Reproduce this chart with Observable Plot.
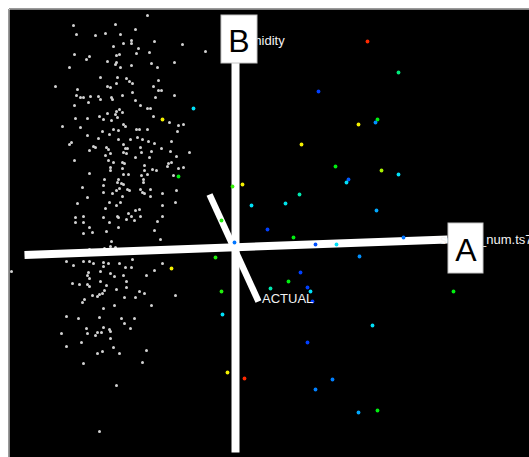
<!DOCTYPE html>
<html>
<head>
<meta charset="utf-8">
<script src="https://cdn.jsdelivr.net/npm/d3@7"></script>
<script src="https://cdn.jsdelivr.net/npm/@observablehq/plot@0.6"></script>
<style>
  html, body { margin: 0; padding: 0; background: #fff; overflow: hidden; }
  #chart svg { display: block; }
</style>
</head>
<body>
<div id="chart"></div>
<script>
// Projected scores (first two display coordinates) of the observations without an ACTUAL value
const clusterScores = [
  [-87,231],[-161,221],[-119,222],[-99,217],[-158,212],[-139,211],[-129,213],[-114,212],[-80,205],[-103,206],
  [-103,203],[-111,203],[-121,200],[-96,198],[-52,202],[-160,192],[-145,190],[-148,187],[-115,192],[-118,191],
  [-98,193],[-85,194],[-127,185],[-119,182],[-118,184],[-114,179],[-103,181],[-83,183],[-77,179],[-60,184],
  [-165,179],[-134,169],[-117,169],[-108,168],[-105,165],[-102,163],[-76,166],[-118,163],[-127,160],[-124,159],
  [-81,160],[-179,160],[-157,157],[-76,156],[-73,156],[-158,151],[-154,149],[-151,149],[-144,150],[-136,150],
  [-134,147],[-123,149],[-122,147],[-112,151],[-102,154],[-79,149],[-60,151],[-160,141],[-146,144],[-99,146],
  [-94,141],[-87,138],[-84,138],[-127,133],[-118,135],[-115,137],[-112,134],[-119,132],[-135,130],[-159,128],
  [-147,128],[-131,127],[-123,126],[-117,129],[-81,130],[-65,124],[-111,122],[-109,120],[-172,120],[-154,119],
  [-132,115],[-121,117],[-116,116],[-98,117],[-95,117],[-87,117],[-56,121],[-51,122],[-57,115],[-147,111],
  [-136,108],[-125,112],[-116,107],[-104,107],[-97,109],[-92,107],[-86,105],[-80,103],[-163,104],[-165,102],
  [-141,100],[-139,99],[-128,99],[-126,97],[-111,102],[-109,98],[-107,98],[-94,99],[-73,98],[-63,105],
  [-145,96],[-124,93],[-111,94],[-108,93],[-93,94],[-83,95],[-64,95],[-45,94],[-129,91],[-99,89],
  [-85,89],[-58,90],[-160,86],[-126,86],[-121,84],[-112,84],[-110,83],[-90,81],[-66,83],[-63,84],
  [-67,80],[-56,78],[-51,79],[-124,79],[-124,76],[-112,78],[-106,72],[-90,76],[-82,77],[-78,76],
  [-145,73],[-111,72],[-93,71],[-87,72],[-61,71],[-116,67],[-117,64],[-130,67],[-113,63],[-111,62],
  [-131,61],[-91,67],[-91,64],[-58,56],[-152,59],[-131,54],[-122,53],[-118,56],[-107,57],[-105,56],
  [-94,57],[-92,54],[-84,57],[-90,53],[-72,53],[-147,49],[-112,50],[-84,50],[-115,58],[-157,43],
  [-125,44],[-118,41],[-114,44],[-72,41],[-59,44],[-129,38],[-106,33],[-99,36],[-95,37],[-159,29],
  [-151,30],[-131,29],[-117,30],[-116,29],[-103,30],[-94,30],[-72,30],[-159,24],[-151,24],[-125,24],
  [-108,27],[-100,26],[-77,25],[-145,19],[-116,19],[-151,13],[-142,14],[-128,15],[-80,16],[-123,5],
  [-74,7],[-145,-3],[-130,-2],[-124,0],[-119,-1],[-168,-15],[-151,-15],[-145,-15],[-141,-17],[-131,-16],
  [-126,-17],[-115,-17],[-102,-13],[-161,-19],[-131,-20],[-109,-21],[-103,-21],[-72,-17],[-80,-24],[-146,-26],
  [-134,-25],[-124,-27],[-120,-30],[-111,-29],[-88,-29],[-147,-29],[-145,-32],[-134,-35],[-108,-35],[-162,-37],
  [-155,-38],[-147,-38],[-145,-40],[-128,-39],[-118,-43],[-108,-41],[-95,-45],[-90,-47],[-130,-44],[-132,-47],
  [-135,-48],[-137,-50],[-142,-49],[-110,-51],[-99,-51],[-59,-49],[-150,-53],[-152,-56],[-120,-59],[-83,-59],
  [-131,-62],[-168,-70],[-156,-72],[-135,-71],[-113,-72],[-110,-77],[-100,-72],[-148,-82],[-131,-81],[-125,-83],
  [-124,-85],[-104,-82],[-147,-87],[-139,-89],[-137,-86],[-133,-86],[-173,-87],[-124,-92],[-153,-96],[-168,-100],
  [-121,-101],[-132,-105],[-137,-107],[-115,-107],[-88,-104],[-151,-117],[-92,-116],[-118,-139],[-135,-185],
  [-29,195],[-223,-25]
];

// Projected scores of the observations with an ACTUAL value: [score 1, score 2, ACTUAL (scaled 0–1)]
const actualScores = [
  [84,155,1.0],[67,102,0.2],[101,80,0.45],[114,67,0.95],[112,64,0.75],[-2,60,0.4],[8,62,0.2],[65,52,0.6],
  [17,41,0.75],[51,43,0.72],[-13,26,0.42],[33,17,1.0],[133,205,0.0],[164,174,0.55],[143,127,0.45],[141,124,0.85],
  [124,122,0.2],[147,76,0.3],[164,72,0.75],[142,36,0.82],[59,9,0.45],[0,4,0.9],[81,2,0.97],[102,2,0.75],
  [-19,-11,0.42],[66,-26,1.0],[54,-35,0.45],[36,-42,0.6],[73,-41,1.0],[76,-45,0.75],[78,-55,1.0],[-13,-45,0.42],
  [-12,-68,0.75],[73,-96,1.0],[-7,-126,0.2],[10,-132,0.0],[98,-133,0.88],[81,-143,0.88],[169,9,0.9],[125,-10,0.85],
  [219,-45,0.45],[138,-79,0.75],[124,-166,0.82],[143,-164,0.45],[-41,138,0.75],[-72,127,0.2],[-56,70,0.45],[-63,-22,0.2]
];

// Variable axes: names, tails and tips in score units
const axisNames = ["sensor_num.ts7", "humidity", "ACTUAL"];
const axisTails = [[-210,-8.5], [1,-206], [-25,52]];
const axisTips  = [[213,7], [1,184], [24,-55]];
const axisLetters = ["A", "B", null];

const axes = axisNames.map((name, i) => ({
  name,
  letter: axisLetters[i],
  x1: axisTails[i][0], y1: axisTails[i][1],
  x2: axisTips[i][0],  y2: axisTips[i][1]
}));
const lettered = axes.filter(d => d.letter);

const font = "Liberation Sans, Arial, Helvetica, sans-serif";
const xDomain = [-225, 295];
const yDomain = [-211, 237];

// Name label placement (pixels) relative to each axis tip
const nameLabel = (name, dx, dy) => Plot.text(axes.filter(d => d.name === name), {
  x: "x2", y: "y2", text: "name", textAnchor: "start", lineAnchor: "bottom",
  dx, dy, fill: "#f2f2f2", fontSize: 13, fontFamily: font
});

const chart = Plot.plot({
  width: 529,
  height: 457,
  marginLeft: 9, marginTop: 9, marginRight: 0, marginBottom: 0,
  x: { domain: xDomain, axis: null },
  y: { domain: yDomain, axis: null },
  color: {
    type: "linear",
    domain: [0, 0.2, 0.3, 0.45, 0.6, 0.75, 0.85, 1],
    range: ["#ff2a00", "#f4f000", "#a8f000", "#00ee10", "#00e8b0", "#00e0f8", "#0090ff", "#0040ff"]
  },
  style: { background: "#fff", fontFamily: font },
  marks: [
    Plot.frame({ fill: "black", stroke: null }),
    Plot.ruleX([xDomain[0]], { stroke: "#9a9a9a", dx: -1 }),
    Plot.ruleY([yDomain[1]], { stroke: "#9a9a9a", dy: -1 }),
    Plot.dot(clusterScores, { x: d => d[0], y: d => d[1], r: 1.5, fill: "#d2d2d2", stroke: null }),
    Plot.link(axes, {
      x1: "x1", y1: "y1", x2: "x2", y2: "y2",
      stroke: "white", strokeWidth: d => d.name === "ACTUAL" ? 6.5 : 8, strokeLinecap: "butt"
    }),
    Plot.dot(actualScores, { x: d => d[0], y: d => d[1], r: 1.9, fill: d => d[2], stroke: null }),
    nameLabel("sensor_num.ts7", -7.5, 4.5),
    nameLabel("humidity", 0.8, -17.5),
    nameLabel("ACTUAL", 3.5, 1.5),
    // Letter boxes at the tips of the A and B axes
    Plot.rect(lettered, {
      x1: d => d.letter === "A" ? d.x2 + 1 : d.x2 - 14,
      x2: d => d.letter === "A" ? d.x2 + 36 : d.x2 + 22,
      y1: d => d.letter === "A" ? d.y2 - 34 : d.y2 - 1,
      y2: d => d.letter === "A" ? d.y2 + 16 : d.y2 + 47,
      fill: "white", stroke: "#c4c4c4", strokeWidth: 1
    }),
    Plot.text(lettered.filter(d => d.letter === "A"), {
      x: "x2", y: "y2", text: "letter", dx: 18.4, dy: 21.7, lineAnchor: "bottom",
      fill: "black", fontSize: 32, fontFamily: font
    }),
    Plot.text(lettered.filter(d => d.letter === "B"), {
      x: "x2", y: "y2", text: "letter", dx: 3.5, dy: -10.3, lineAnchor: "bottom",
      fill: "black", fontSize: 32, fontFamily: font
    })
  ]
});

document.getElementById("chart").appendChild(chart);
</script>
</body>
</html>
